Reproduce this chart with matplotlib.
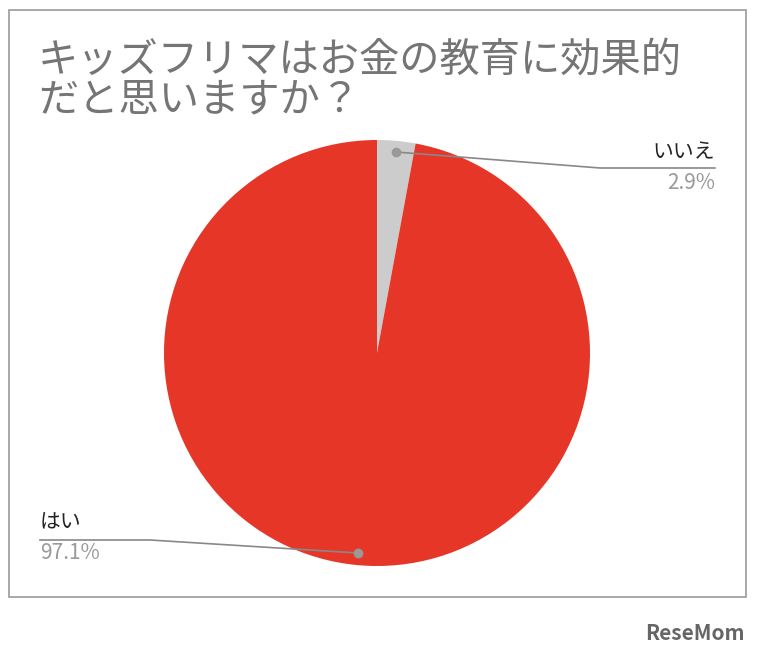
import matplotlib
matplotlib.use("Agg")
import matplotlib.pyplot as plt
from matplotlib.patches import Rectangle

plt.rcParams['font.family'] = ['Noto Sans CJK JP', 'DejaVu Sans']

labels = ["いいえ", "はい"]
values = [2.9, 97.1]
colors = ["#CCCCCC", "#E53628"]
title = "キッズフリマはお金の教育に効果的\nだと思いますか？"

W, H = 758, 656
fig = plt.figure(figsize=(W/100, H/100), dpi=100)
bg = fig.add_axes([0, 0, 1, 1])
bg.set_xlim(0, W); bg.set_ylim(H, 0); bg.axis('off')
bg.add_patch(Rectangle((9, 10), 737, 587, fill=False, edgecolor="#999999", lw=1.2))
bg.text(38, 80, title, fontsize=29, color="#757575", va='center', linespacing=0.95)

cx, cy, r = 377, 353, 213
ax = fig.add_axes([(cx-r)/W, 1-(cy+r)/H, 2*r/W, 2*r/H])
ax.pie(values, colors=colors, startangle=90, counterclock=False, radius=1)
ax.set_xlim(-1, 1); ax.set_ylim(-1, 1); ax.set_aspect('auto')

ov = fig.add_axes([0, 0, 1, 1])
ov.set_xlim(0, W); ov.set_ylim(H, 0); ov.axis('off'); ov.patch.set_alpha(0)

ov.plot([396, 600, 715], [152, 168, 168], color="#888888", lw=1.2)
ov.plot(396, 152, 'o', color="#999999", ms=6)
ov.text(715, 152, labels[0], fontsize=15, ha='right', va='center', color="#222222")
ov.text(715, 183, f"{values[0]}%", fontsize=15, ha='right', va='center', color="#999999")

ov.plot([358, 150, 40], [553, 540, 540], color="#888888", lw=1.2)
ov.plot(358, 553, 'o', color="#999999", ms=6)
ov.text(40, 522, labels[1], fontsize=15, ha='left', va='center', color="#222222")
ov.text(40, 553, f"{values[1]}%", fontsize=15, ha='left', va='center', color="#999999")

ov.text(745, 634, "ReseMom", fontsize=15, fontweight='bold', ha='right', va='center', color="#666666")

fig.savefig("out.png", dpi=100)
